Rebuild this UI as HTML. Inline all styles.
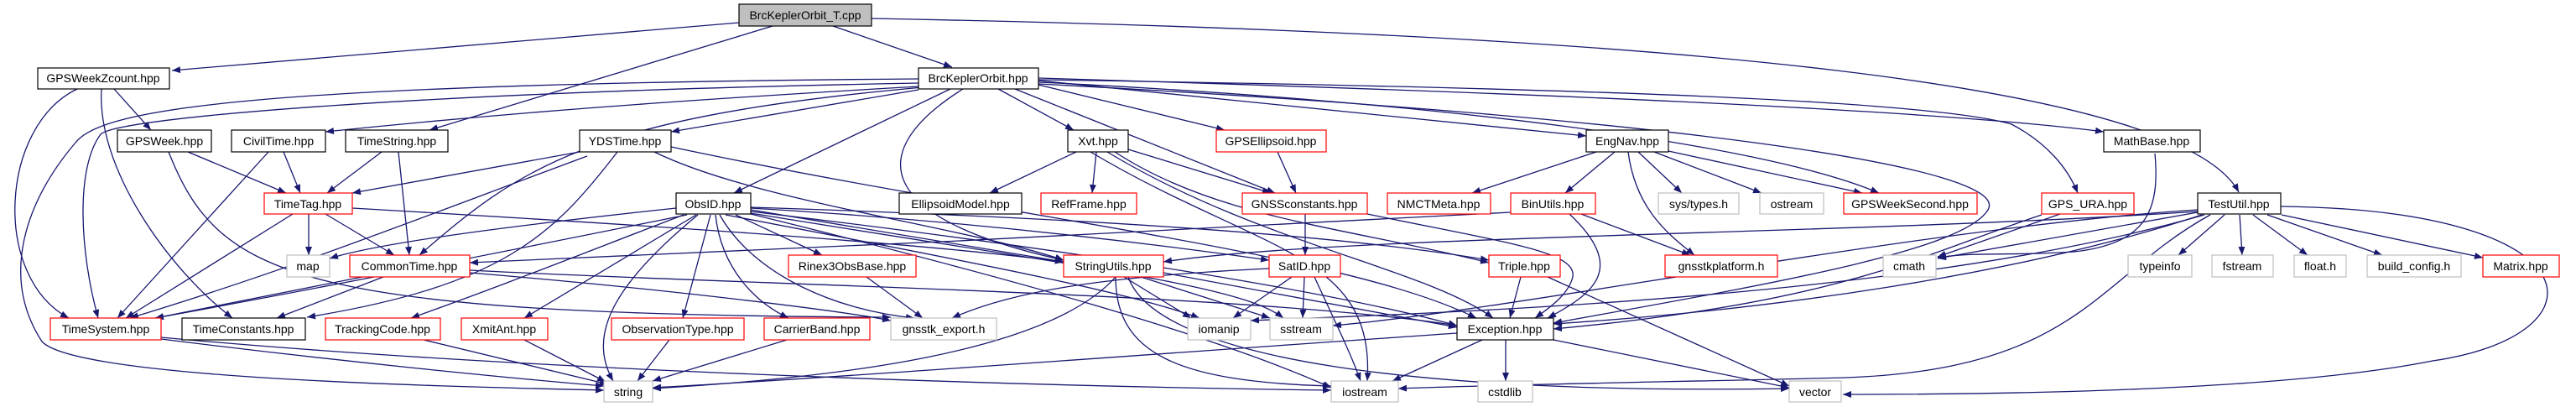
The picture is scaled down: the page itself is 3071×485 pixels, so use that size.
<!DOCTYPE html>
<html><head><meta charset="utf-8"><style>
html,body{margin:0;padding:0;background:#fff;}
svg{display:block;}
text{font-family:"Liberation Sans",sans-serif;font-size:14px;fill:#000;text-anchor:middle;}
.e{fill:none;stroke:#191970;stroke-width:1.3;marker-end:url(#a);}
.b{fill:#fff;stroke:#000;stroke-width:1.2;}
.r{fill:#fff;stroke:#ff0000;stroke-width:1.2;}
.g{fill:#fff;stroke:#bfbfbf;stroke-width:1.2;}
</style></head><body>
<svg width="3071" height="485" viewBox="0 0 3071 485" xmlns="http://www.w3.org/2000/svg">
<defs><marker id="a" markerUnits="userSpaceOnUse" markerWidth="11" markerHeight="9" refX="10" refY="4" orient="auto"><path d="M0,0 L10,4 L0,8 z" fill="#191970"/></marker></defs>
<g>
<path class="e" d="M881,27 L205,84"/>
<path class="e" d="M921,31 L512,155"/>
<path class="e" d="M993,31 L1135,80"/>
<path class="e" d="M1039,22 C2000,40 2600,100 2669,229"/>
<path class="e" d="M136,106 L180,155"/>
<path class="e" d="M92,106 C0,150 -10,330 82,379"/>
<path class="e" d="M121,106 C115,200 200,320 277,379"/>
<path class="e" d="M224,181 L341,230"/>
<path class="e" d="M201,181 C260,330 350,375 1062,378"/>
<path class="e" d="M338,181 L358,230"/>
<path class="e" d="M320,181 L140,379"/>
<path class="e" d="M455,181 L390,230"/>
<path class="e" d="M475,181 L488,304"/>
<path class="e" d="M691,181 L420,230"/>
<path class="e" d="M700,186 C500,260 350,320 155,379"/>
<path class="e" d="M736,181 C660,280 600,340 366,378"/>
<path class="e" d="M780,181 C900,240 1150,270 1268,310"/>
<path class="e" d="M800,175 C1200,260 1600,300 1760,379"/>
<path class="e" d="M368,255 L368,304"/>
<path class="e" d="M388,255 L470,304"/>
<path class="e" d="M349,255 L150,379"/>
<path class="e" d="M420,248 C800,270 1100,290 1268,312"/>
<path class="e" d="M432,330 L185,379"/>
<path class="e" d="M457,330 L330,379"/>
<path class="e" d="M560,322 C900,340 1500,350 1737,388"/>
<path class="e" d="M560,325 C800,345 1000,370 1062,382"/>
<path class="e" d="M192,404 C400,430 600,450 720,460"/>
<path class="e" d="M192,402 C600,440 1200,460 1587,465"/>
<path class="e" d="M505,405 L725,458"/>
<path class="e" d="M625,405 L722,455"/>
<path class="e" d="M798,405 L760,454"/>
<path class="e" d="M938,405 L778,454"/>
<path class="e" d="M1095,94 C300,100 120,130 90,170 C30,240 0,330 50,407 C90,450 500,460 720,465"/>
<path class="e" d="M1095,99 C500,110 140,140 120,160 C90,200 95,300 117,379"/>
<path class="e" d="M1095,103 C800,120 600,135 388,157"/>
<path class="e" d="M1095,107 L800,157"/>
<path class="e" d="M1133,106 L875,230"/>
<path class="e" d="M1100,104 C700,140 620,200 500,304"/>
<path class="e" d="M1148,106 C1030,180 1040,260 1268,310"/>
<path class="e" d="M1190,106 L1280,155"/>
<path class="e" d="M1238,101 L1460,155"/>
<path class="e" d="M1210,106 L1520,230"/>
<path class="e" d="M1238,96 L1891,162"/>
<path class="e" d="M1238,93 C1800,110 2300,130 2508,157"/>
<path class="e" d="M1238,95 C1900,105 2300,120 2398,148 C2440,170 2465,200 2477,230"/>
<path class="e" d="M1238,98 C1700,120 2100,170 2240,230"/>
<path class="e" d="M1238,100 C2000,140 2400,200 2370,250 C2340,300 2100,340 1852,385"/>
<path class="e" d="M1283,181 L1180,230"/>
<path class="e" d="M1307,181 L1302,230"/>
<path class="e" d="M1345,178 L1515,230"/>
<path class="e" d="M1329,181 C1450,260 1600,270 1775,313"/>
<path class="e" d="M1320,181 C1500,290 1700,320 1780,379"/>
<path class="e" d="M1300,181 C1500,300 1640,300 1630,454"/>
<path class="e" d="M1523,181 L1545,230"/>
<path class="e" d="M1903,181 L1755,230"/>
<path class="e" d="M1925,181 L1866,230"/>
<path class="e" d="M1941,181 C1950,250 1990,280 2020,304"/>
<path class="e" d="M1953,181 L2005,230"/>
<path class="e" d="M1972,181 L2100,230"/>
<path class="e" d="M1989,180 L2220,230"/>
<path class="e" d="M1556,255 L1556,304"/>
<path class="e" d="M1630,255 C1800,290 1880,300 1875,330 C1870,350 1850,365 1830,379"/>
<path class="e" d="M1801,253 C1500,270 900,300 560,313"/>
<path class="e" d="M1871,255 C1940,320 1900,350 1845,379"/>
<path class="e" d="M1885,255 L2015,304"/>
<path class="e" d="M1540,330 L1470,379"/>
<path class="e" d="M1555,330 L1553,379"/>
<path class="e" d="M1567,330 C1590,380 1610,420 1622,454"/>
<path class="e" d="M1813,330 L1800,379"/>
<path class="e" d="M1845,330 L2133,460"/>
<path class="e" d="M1767,405 L1660,454"/>
<path class="e" d="M1795,405 L1795,454"/>
<path class="e" d="M1852,405 L2133,462"/>
<path class="e" d="M1737,397 C1400,420 1000,450 778,462"/>
<path class="e" d="M1330,330 C1250,420 1000,450 778,463"/>
<path class="e" d="M1330,330 C1330,420 1400,455 1587,460"/>
<path class="e" d="M1360,330 L1514,379"/>
<path class="e" d="M1340,330 L1420,379"/>
<path class="e" d="M1387,325 L1737,390"/>
<path class="e" d="M1345,330 C1380,430 1700,470 2133,463"/>
<path class="e" d="M1033,330 L1100,379"/>
<path class="e" d="M815,256 C700,300 600,340 490,379"/>
<path class="e" d="M830,256 L625,379"/>
<path class="e" d="M847,256 L814,379"/>
<path class="e" d="M853,256 C860,320 900,360 940,379"/>
<path class="e" d="M858,256 C900,330 1000,370 1090,379"/>
<path class="e" d="M877,256 L980,304"/>
<path class="e" d="M832,256 C730,340 700,400 731,454"/>
<path class="e" d="M806,248 C600,270 450,290 393,308"/>
<path class="e" d="M819,256 C600,300 400,340 185,379"/>
<path class="e" d="M895,250 L1268,312"/>
<path class="e" d="M895,248 C1100,260 1300,280 1513,310"/>
<path class="e" d="M895,252 C1300,300 1600,350 1737,388"/>
<path class="e" d="M895,255 C1200,330 1450,400 1587,462"/>
<path class="e" d="M865,256 C1200,320 1350,350 1430,379"/>
<path class="e" d="M895,254 C1300,320 1480,340 1530,379"/>
<path class="e" d="M895,247 C1300,260 1600,280 1775,310"/>
<path class="e" d="M2569,183 C2575,250 2560,290 2473,300 C2400,305 2350,300 2310,307"/>
<path class="e" d="M2456,255 L2310,306"/>
<path class="e" d="M2434,256 C2300,300 2200,360 1852,392"/>
<path class="e" d="M2620,253 L2310,308"/>
<path class="e" d="M2652,256 L2597,304"/>
<path class="e" d="M2670,256 L2673,304"/>
<path class="e" d="M2686,256 L2751,304"/>
<path class="e" d="M2703,256 L2840,304"/>
<path class="e" d="M2720,256 L2960,307"/>
<path class="e" d="M2719,246 C3100,250 3110,400 2900,430 C2700,470 2300,470 2197,470"/>
<path class="e" d="M2635,256 C2500,330 2480,440 2200,450 C2000,455 1800,458 1667,463"/>
<path class="e" d="M2625,256 C2400,330 2100,370 1852,386"/>
<path class="e" d="M2620,250 C2300,270 1800,370 1589,388"/>
<path class="e" d="M2628,256 C2300,350 1800,370 1491,382"/>
<path class="e" d="M2620,252 C2200,280 1600,280 1387,312"/>
<path class="e" d="M1513,320 C1300,330 1200,350 1135,379"/>
</g>
<g>
<rect x="881" y="5" width="158" height="26" fill="#bfbfbf" stroke="#000" stroke-width="1.2"/><text x="960" y="23">BrcKeplerOrbit_T.cpp</text>
<rect class="b" x="45" y="81" width="157" height="25"/><text x="123" y="98">GPSWeekZcount.hpp</text>
<rect class="b" x="1095" y="81" width="143" height="25"/><text x="1166" y="98">BrcKeplerOrbit.hpp</text>
<rect class="b" x="140" y="155" width="112" height="26"/><text x="196" y="173">GPSWeek.hpp</text>
<rect class="b" x="276" y="155" width="112" height="26"/><text x="332" y="173">CivilTime.hpp</text>
<rect class="b" x="412" y="155" width="122" height="26"/><text x="473" y="173">TimeString.hpp</text>
<rect class="b" x="691" y="155" width="109" height="26"/><text x="745" y="173">YDSTime.hpp</text>
<rect class="b" x="1273" y="155" width="72" height="26"/><text x="1309" y="173">Xvt.hpp</text>
<rect class="r" x="1450" y="155" width="131" height="26"/><text x="1515" y="173">GPSEllipsoid.hpp</text>
<rect class="b" x="1891" y="155" width="98" height="26"/><text x="1940" y="173">EngNav.hpp</text>
<rect class="b" x="2508" y="155" width="115" height="26"/><text x="2565" y="173">MathBase.hpp</text>
<rect class="r" x="315" y="230" width="105" height="25"/><text x="367" y="248">TimeTag.hpp</text>
<rect class="b" x="806" y="230" width="89" height="25"/><text x="850" y="248">ObsID.hpp</text>
<rect class="b" x="1072" y="230" width="146" height="25"/><text x="1145" y="248">EllipsoidModel.hpp</text>
<rect class="r" x="1241" y="230" width="114" height="25"/><text x="1298" y="248">RefFrame.hpp</text>
<rect class="r" x="1481" y="230" width="149" height="25"/><text x="1555" y="248">GNSSconstants.hpp</text>
<rect class="r" x="1654" y="230" width="123" height="25"/><text x="1715" y="248">NMCTMeta.hpp</text>
<rect class="r" x="1801" y="230" width="101" height="25"/><text x="1851" y="248">BinUtils.hpp</text>
<rect class="g" x="1977" y="230" width="96" height="25"/><text x="2025" y="248">sys/types.h</text>
<rect class="g" x="2098" y="230" width="76" height="25"/><text x="2136" y="248">ostream</text>
<rect class="r" x="2198" y="230" width="159" height="25"/><text x="2277" y="248">GPSWeekSecond.hpp</text>
<rect class="r" x="2434" y="230" width="110" height="25"/><text x="2489" y="248">GPS_URA.hpp</text>
<rect class="b" x="2620" y="230" width="99" height="25" stroke-width="1.6"/><text x="2669" y="248">TestUtil.hpp</text>
<rect class="g" x="342" y="304" width="51" height="26"/><text x="367" y="322">map</text>
<rect class="r" x="417" y="304" width="143" height="26"/><text x="488" y="322">CommonTime.hpp</text>
<rect class="r" x="940" y="304" width="152" height="26"/><text x="1016" y="322">Rinex3ObsBase.hpp</text>
<rect class="r" x="1268" y="304" width="119" height="26"/><text x="1327" y="322">StringUtils.hpp</text>
<rect class="r" x="1513" y="304" width="85" height="26"/><text x="1555" y="322">SatID.hpp</text>
<rect class="r" x="1775" y="304" width="85" height="26"/><text x="1817" y="322">Triple.hpp</text>
<rect class="r" x="1985" y="304" width="134" height="26"/><text x="2052" y="322">gnsstkplatform.h</text>
<rect class="g" x="2245" y="304" width="63" height="26"/><text x="2276" y="322">cmath</text>
<rect class="g" x="2537" y="304" width="76" height="26"/><text x="2575" y="322">typeinfo</text>
<rect class="g" x="2637" y="304" width="73" height="26"/><text x="2673" y="322">fstream</text>
<rect class="g" x="2735" y="304" width="62" height="26"/><text x="2766" y="322">float.h</text>
<rect class="g" x="2822" y="304" width="112" height="26"/><text x="2878" y="322">build_config.h</text>
<rect class="r" x="2960" y="304" width="91" height="26"/><text x="3005" y="322">Matrix.hpp</text>
<rect class="r" x="60" y="379" width="132" height="26"/><text x="126" y="397">TimeSystem.hpp</text>
<rect class="b" x="217" y="379" width="147" height="26"/><text x="290" y="397">TimeConstants.hpp</text>
<rect class="r" x="388" y="379" width="137" height="26"/><text x="456" y="397">TrackingCode.hpp</text>
<rect class="r" x="550" y="379" width="103" height="26"/><text x="601" y="397">XmitAnt.hpp</text>
<rect class="r" x="729" y="379" width="158" height="26"/><text x="808" y="397">ObservationType.hpp</text>
<rect class="r" x="911" y="379" width="126" height="26"/><text x="974" y="397">CarrierBand.hpp</text>
<rect class="g" x="1062" y="379" width="126" height="26"/><text x="1125" y="397">gnsstk_export.h</text>
<rect class="g" x="1416" y="379" width="75" height="26"/><text x="1453" y="397">iomanip</text>
<rect class="g" x="1514" y="379" width="75" height="26"/><text x="1551" y="397">sstream</text>
<rect class="b" x="1737" y="379" width="115" height="26"/><text x="1794" y="397">Exception.hpp</text>
<rect class="g" x="720" y="454" width="58" height="25"/><text x="749" y="472">string</text>
<rect class="g" x="1587" y="454" width="80" height="25"/><text x="1627" y="472">iostream</text>
<rect class="g" x="1762" y="454" width="65" height="25"/><text x="1794" y="472">cstdlib</text>
<rect class="g" x="2133" y="454" width="62" height="25"/><text x="2164" y="472">vector</text>
</g>
</svg>
</body></html>
